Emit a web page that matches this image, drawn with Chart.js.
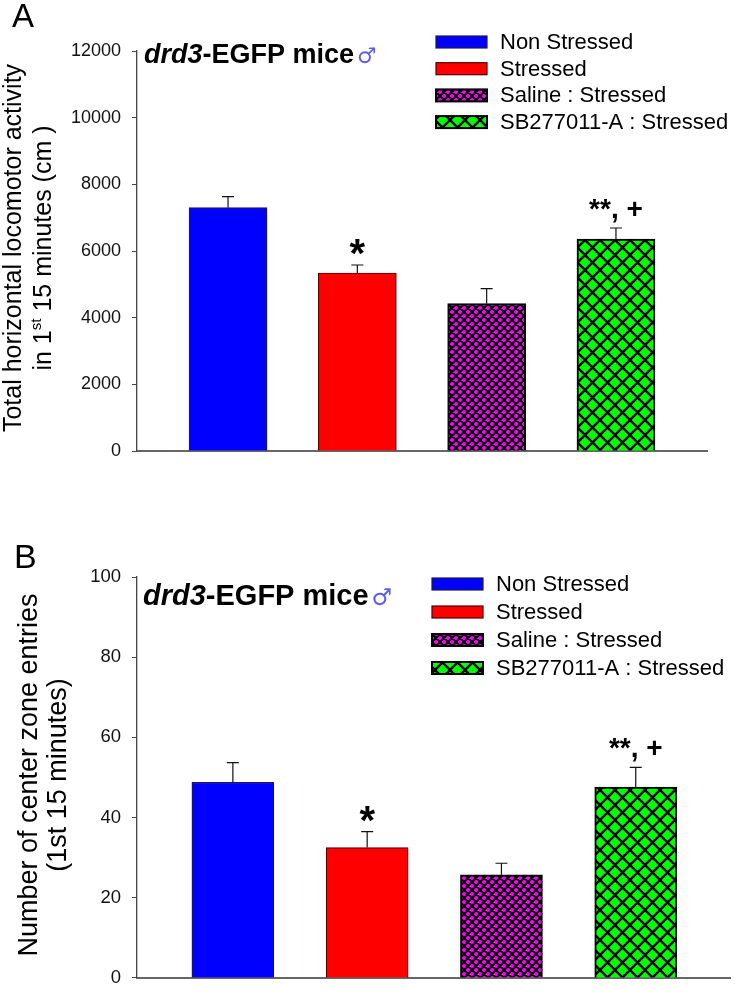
<!DOCTYPE html>
<html>
<head>
<meta charset="utf-8">
<script src="https://cdn.jsdelivr.net/npm/chart.js@4.4.1/dist/chart.umd.min.js"></script>
<style>
  body { margin: 0; background: #fff; }
  #wrap { position: relative; width: 735px; height: 1000px; }
  canvas { position: absolute; left: 0; }
  #chartA { top: 0; }
  #chartB { top: 490px; }
</style>
</head>
<body>
<div id="wrap">
  <canvas id="chartA" width="735" height="490"></canvas>
  <canvas id="chartB" width="735" height="510"></canvas>
</div>
<script>
const groups = ['Non Stressed', 'Stressed', 'Saline : Stressed', 'SB277011-A : Stressed'];

// A: total horizontal locomotor activity (cm), mean and SEM
const locomotorMean = [7300, 5340, 4420, 6360];
const locomotorSem = [330, 240, 450, 330];
const locomotorTicks = [0, 2000, 4000, 6000, 8000, 10000, 12000];

// B: center zone entries, mean and SEM
const entriesMean = [48.8, 32.5, 25.7, 47.6];
const entriesSem = [4.9, 4.0, 2.9, 4.9];
const entriesTicks = [0, 20, 40, 60, 80, 100];

const signif = ['', '*', '', '**, +'];

const FONT = '"Liberation Sans", Arial, sans-serif';

// crosshatch fill like the sigmaplot bars
function hatch(bg, p, lw) {
  const c = document.createElement('canvas');
  c.width = c.height = p;
  const g = c.getContext('2d');
  g.fillStyle = bg;
  g.fillRect(0, 0, p, p);
  g.strokeStyle = '#000';
  g.lineWidth = lw;
  g.beginPath();
  for (let k = -1; k <= 1; k++) {
    g.moveTo(k * p - 1, -1); g.lineTo(k * p + p + 1, p + 1);
    g.moveTo(k * p + p + 1, -1); g.lineTo(k * p - 1, p + 1);
  }
  g.stroke();
  return g.createPattern(c, 'repeat');
}

const fills = ['#0000ff', '#ff0000', hatch('#ff00ff', 8, 2), hatch('#00ff00', 15, 2.4)];
const edges = ['#1a1a55', '#550000', '#000', '#000'];

function rotatedText(ctx, bx, cy, parts, size) {
  ctx.save();
  ctx.translate(bx, cy);
  ctx.rotate(-Math.PI / 2);
  ctx.textBaseline = 'alphabetic';
  ctx.textAlign = 'left';
  let total = 0;
  parts.forEach(p => {
    ctx.font = (p.sup ? size * 0.6 : size) + 'px ' + FONT;
    p.w = ctx.measureText(p.t).width;
    total += p.w;
  });
  let x = -total / 2;
  parts.forEach(p => {
    ctx.font = (p.sup ? size * 0.6 : size) + 'px ' + FONT;
    ctx.fillText(p.t, x, p.sup ? -size * 0.4 : 0);
    x += p.w;
  });
  ctx.restore();
}

const decor = {
  id: 'decor',
  afterDraw(chart) {
    const o = chart.config._config.decor;
    const ctx = chart.ctx;
    const ys = chart.scales.y;
    const bars = chart.getDatasetMeta(0).data;
    ctx.save();
    ctx.fillStyle = '#000';

    // error bars (upper whisker only) + significance marks
    ctx.strokeStyle = '#111';
    ctx.lineWidth = 1.2;
    bars.forEach((b, i) => {
      const top = ys.getPixelForValue(o.mean[i] + o.sem[i]);
      ctx.beginPath();
      ctx.moveTo(b.x, b.y);
      ctx.lineTo(b.x, top);
      ctx.moveTo(b.x - 6, top);
      ctx.lineTo(b.x + 6, top);
      ctx.stroke();
      if (signif[i]) {
        const single = signif[i] === '*';
        ctx.font = 'bold ' + (single ? 40 : 28) + 'px ' + FONT;
        ctx.textAlign = 'center';
        ctx.textBaseline = 'alphabetic';
        ctx.fillText(signif[i], b.x, single ? top + 2 : top - 10);
      }
    });

    // panel letter
    ctx.font = o.letterSize + 'px ' + FONT;
    ctx.textAlign = 'left';
    ctx.fillText(o.letter, o.letterX, o.letterY);

    // y titles
    rotatedText(ctx, o.title1X, o.titleY, o.title1, o.titleSize);
    rotatedText(ctx, o.title2X, o.titleY, o.title2, o.titleSize);

    // strain annotation
    let x = o.noteX;
    ctx.textBaseline = 'alphabetic';
    ctx.font = 'italic bold ' + o.noteSize + 'px ' + FONT;
    ctx.fillText('drd3', x, o.noteY);
    x += ctx.measureText('drd3').width;
    ctx.font = 'bold ' + o.noteSize + 'px ' + FONT;
    ctx.fillText('-EGFP mice', x, o.noteY);
    x += ctx.measureText('-EGFP mice').width + 3;
    ctx.fillStyle = '#5b5bef';
    ctx.font = (o.noteSize * 0.8) + 'px "DejaVu Sans", sans-serif';
    ctx.fillText('\u2642', x, o.noteY);

    // legend
    ctx.textBaseline = 'middle';
    ctx.font = '22px ' + FONT;
    groups.forEach((g, i) => {
      const ry = o.legY + i * o.legStep;
      ctx.fillStyle = fills[i];
      ctx.fillRect(o.legX, ry - 6, 51, 12);
      ctx.strokeStyle = i < 2 ? edges[i] : '#000';
      ctx.lineWidth = i < 2 ? 1.2 : 2;
      ctx.strokeRect(o.legX, ry - 6, 51, 12);
      ctx.fillStyle = '#000';
      ctx.fillText(g, o.legX + 64, ry + 1);
    });
    ctx.restore();
  }
};

function buildChart(id, o) {
  const cfg = {
    type: 'bar',
    data: {
      datasets: [{
        data: o.mean.map((v, i) => ({ x: i, y: v })),
        backgroundColor: fills,
        borderColor: edges,
        borderWidth: [1.2, 1.2, 2, 2],
        barThickness: o.barW
      }]
    },
    options: {
      responsive: false,
      animation: false,
      layout: { padding: { top: o.padTop, right: o.padRight, left: 0, bottom: 0 } },
      plugins: { legend: { display: false }, tooltip: { enabled: false } },
      scales: {
        x: {
          type: 'linear', min: o.xMin, max: o.xMax, offset: false,
          ticks: { display: false },
          grid: { display: false, offset: false },
          border: { color: '#666', width: 2 },
          afterFit: s => { s.height = o.padBottom; }
        },
        y: {
          min: 0, max: o.ticks[o.ticks.length - 1],
          afterBuildTicks: s => { s.ticks = o.ticks.map(v => ({ value: v })); },
          ticks: {
            color: '#111', padding: 11, font: { family: FONT, size: o.tickSize },
            callback: v => String(v)
          },
          grid: { display: true, drawOnChartArea: false, drawTicks: true, tickLength: 5, color: '#444' },
          border: { color: '#444', width: 1.3 },
          afterFit: s => { s.width = 137; }
        }
      }
    },
    plugins: [decor]
  };
  cfg.decor = o;
  return new Chart(document.getElementById(id), cfg);
}

const chartA = buildChart('chartA', {
  mean: locomotorMean, sem: locomotorSem, ticks: locomotorTicks,
  padTop: 51, padRight: 28, padBottom: 39, xMin: -0.704, xMax: 3.704, barW: 78, tickSize: 18,
  letter: 'A', letterSize: 33, letterX: 12, letterY: 27,
  title1: [{ t: 'Total horizontal locomotor activity' }],
  title2: [{ t: 'in 1' }, { t: 'st', sup: true }, { t: ' 15 minutes (cm )' }],
  title1X: 21, title2X: 51, titleY: 248, titleSize: 25,
  noteX: 144, noteY: 63, noteSize: 27,
  legX: 436, legY: 42, legStep: 26.7
});

const chartB = buildChart('chartB', {
  mean: entriesMean, sem: entriesSem, ticks: entriesTicks,
  padTop: 87, padRight: 5, padBottom: 7, xMin: -0.714, xMax: 3.702, barW: 82, tickSize: 18.5,
  letter: 'B', letterSize: 34, letterX: 14, letterY: 78,
  title1: [{ t: 'Number of center zone entries' }],
  title2: [{ t: '(1st 15 minutes)' }],
  title1X: 37, title2X: 66, titleY: 285, titleSize: 27,
  noteX: 143, noteY: 115, noteSize: 29,
  legX: 432, legY: 94, legStep: 28
});
</script>
</body>
</html>
